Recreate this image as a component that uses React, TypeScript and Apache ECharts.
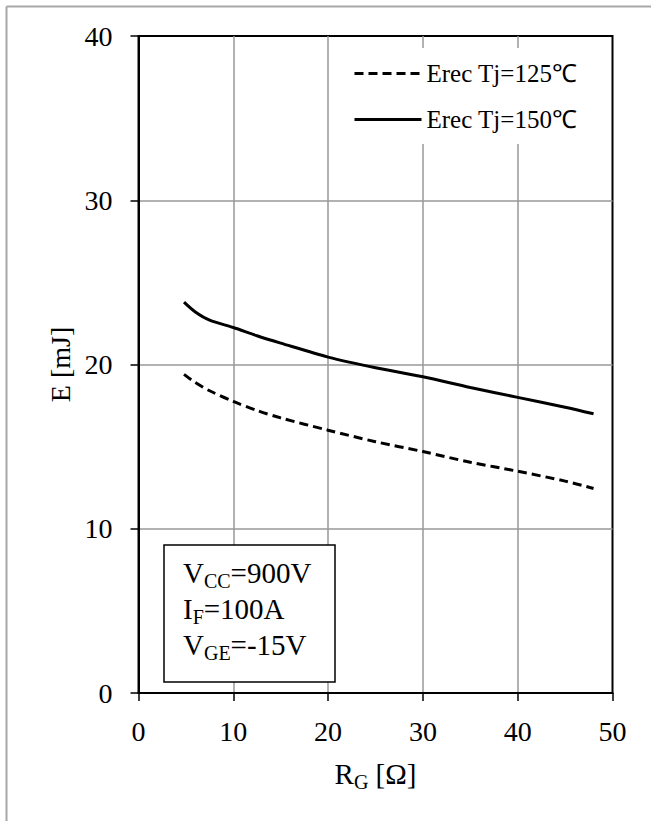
import React, { useEffect, useRef } from "react";
import * as echarts from "echarts";

// Gate resistance R_G [Ω]
const rgValues = [4.8, 6, 7.5, 10, 12.5, 15, 20, 25, 30, 35, 40, 45, 48];
// Reverse-recovery energy Erec [mJ]
const erec125 = [19.4, 18.9, 18.4, 17.75, 17.2, 16.75, 16.0, 15.3, 14.7, 14.05, 13.5, 12.9, 12.45];
const erec150 = [23.8, 23.2, 22.7, 22.25, 21.75, 21.3, 20.45, 19.8, 19.25, 18.6, 18.0, 17.4, 17.0];

const xTicks = [0, 10, 20, 30, 40, 50];
const yTicks = [0, 10, 20, 30, 40];

const seriesNames = ["Erec Tj=125\u2103", "Erec Tj=150\u2103"];

const FONT = "'Liberation Serif', 'Times New Roman', serif";

const pairs = (ys: number[]) => rgValues.map((x, i) => [x, ys[i]]);

export default function App() {
  const ref = useRef<HTMLDivElement>(null);

  useEffect(() => {
    if (!ref.current) return;
    const chart = echarts.init(ref.current, undefined, { renderer: "svg" });

    // rich-text styles: regular text and a lowered subscript
    const main = { fontSize: 29, fontFamily: FONT, color: "#000", lineHeight: 36 };
    const sub = {
      fontSize: 20,
      fontFamily: FONT,
      color: "#000",
      lineHeight: 14,
      verticalAlign: "bottom",
    };

    chart.setOption({
      animation: false,
      backgroundColor: "#fff",
      grid: {
        left: 138.5,
        right: 38.5,
        top: 36,
        bottom: 128,
        show: true,
        borderColor: "#000",
        borderWidth: 2,
        backgroundColor: "transparent",
      },
      xAxis: {
        type: "value",
        min: xTicks[0],
        max: xTicks[xTicks.length - 1],
        interval: 10,
        name: "{m|R}{s|G}{m| [\u03a9]}",
        nameLocation: "middle",
        nameGap: 63,
        nameMoveOverlap: false,
        nameTextStyle: { rich: { m: main, s: sub } },
        axisLine: { show: true, lineStyle: { color: "#000", width: 2 } },
        axisTick: { show: true, length: 8, lineStyle: { color: "#000", width: 1.5 } },
        axisLabel: { fontSize: 28, fontFamily: FONT, color: "#000", margin: 24 },
        splitLine: {
          show: true,
          showMinLine: false,
          showMaxLine: false,
          lineStyle: { color: "#999", width: 1.5 },
        },
      },
      yAxis: {
        type: "value",
        min: yTicks[0],
        max: yTicks[yTicks.length - 1],
        interval: 10,
        name: "E [mJ]",
        nameLocation: "middle",
        nameRotate: 90,
        nameGap: 64,
        nameMoveOverlap: false,
        nameTextStyle: { fontSize: 28, fontFamily: FONT, color: "#000" },
        axisLine: { show: true, lineStyle: { color: "#000", width: 2 } },
        axisTick: { show: true, length: 8, lineStyle: { color: "#000", width: 1.5 } },
        axisLabel: { fontSize: 28, fontFamily: FONT, color: "#000", margin: 26 },
        splitLine: {
          show: true,
          showMinLine: false,
          showMaxLine: false,
          lineStyle: { color: "#999", width: 1.5 },
        },
      },
      legend: {
        orient: "vertical",
        left: 345,
        top: 48,
        padding: [13, 12, 12, 8],
        itemGap: 21,
        itemWidth: 67,
        itemHeight: 24,
        backgroundColor: "#fff",
        data: seriesNames,
        itemStyle: { opacity: 0 },
        lineStyle: { width: 3 },
        textStyle: { fontSize: 25, fontFamily: FONT, color: "#000", lineHeight: 24 },
      },
      series: [
        {
          name: seriesNames[0],
          type: "line",
          data: pairs(erec125),
          smooth: 0.3,
          showSymbol: false,
          symbol: "none",
          lineStyle: { color: "#000", width: 3, type: [9, 5] },
          itemStyle: { color: "#000" },
          z: 3,
        },
        {
          name: seriesNames[1],
          type: "line",
          data: pairs(erec150),
          smooth: 0.3,
          showSymbol: false,
          symbol: "none",
          lineStyle: { color: "#000", width: 3, type: "solid" },
          itemStyle: { color: "#000" },
          z: 3,
        },
      ],
      graphic: [
        {
          type: "line",
          shape: { x1: 6.5, y1: 6.5, x2: 651, y2: 6.5 },
          style: { stroke: "#a8a8a8", lineWidth: 2 },
        },
        {
          type: "line",
          shape: { x1: 6.5, y1: 6.5, x2: 6.5, y2: 821 },
          style: { stroke: "#a8a8a8", lineWidth: 2 },
        },
        {
          type: "rect",
          shape: { x: 164, y: 545, width: 171, height: 137 },
          style: { fill: "#fff", stroke: "#000", lineWidth: 1.5 },
          z: 10,
        },
        {
          type: "text",
          x: 183,
          y: 555,
          z: 11,
          style: {
            text: "{m|V}{s|CC}{m|=900V}\n{m|I}{s|F}{m|=100A}\n{m|V}{s|GE}{m|=-15V}",
            rich: { m: main, s: sub },
            fill: "#000",
          },
        },
      ],
    });

    return () => chart.dispose();
  }, []);

  return (
    <div
      ref={ref}
      style={{ position: "fixed", left: 0, top: 0, width: 651, height: 821, background: "#fff" }}
    />
  );
}
